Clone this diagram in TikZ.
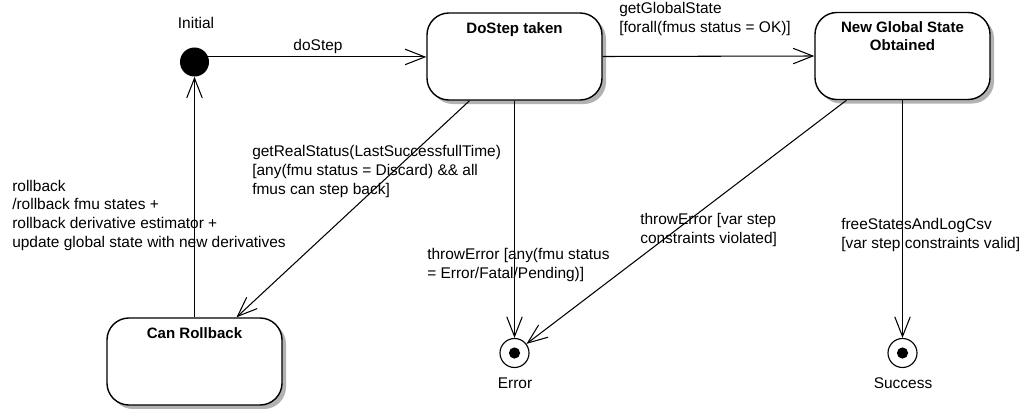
\documentclass[tikz,border=0pt]{standalone}
\usepackage{fontspec}
\setmainfont{Liberation Sans}
\usepackage{tikz}
\usetikzlibrary{arrows.meta,calc,shadows}

\tikzset{
  state/.style={draw, line width=1pt, rounded corners=0.55cm, fill=white,
    minimum width=4.375cm, minimum height=2.175cm, inner sep=0pt,
    drop shadow={shadow xshift=0.1cm, shadow yshift=-0.1cm, fill=black!30, opacity=1}},
  statetitle/.style={anchor=north, yshift=-0.25cm, inner sep=0pt, align=center,
    font=\fontsize{10.7}{12.8}\selectfont\bfseries},
  initstate/.style={circle, fill=black, minimum size=0.725cm, inner sep=0pt},
  finalstate/.style={circle, draw, line width=0.8pt, fill=white, minimum size=0.725cm, inner sep=0pt},
  trans/.style={-{Straight Barb[length=14pt,width=11pt]}, line width=0.75pt},
  txt/.style={font=\fontsize{11}{13.2}\selectfont, align=left, inner sep=0pt, anchor=base west}
}

\begin{document}
\begin{tikzpicture}[x=0.025cm, y=-0.025cm]
  \useasboundingbox (0,0) rectangle (1019,408);

  % States
  \node[initstate] (init) at (194.5,62) {};
  \node[state, label={[statetitle]north:DoStep taken}] (dostep) at (514.5,56.5) {};
  \node[state, label={[statetitle]north:New Global State\\Obtained}] (newstate) at (902.5,56) {};
  \node[state, label={[statetitle]north:Can Rollback}] (rollback) at (194.5,361.5) {};
  \node[finalstate] (errend) at (514.5,353) {};
  \node[finalstate] (success) at (902.5,353) {};
  \fill (errend) circle (0.14cm);
  \fill (success) circle (0.14cm);

  % Names of the pseudo states
  \node[txt, anchor=base] (initname) at (196,28) {Initial};
  \node[txt, anchor=base] (errname) at (515,388) {Error};
  \node[txt, anchor=base] (succname) at (903,388) {Success};

  % Transitions
  \draw[trans] (init.20) -- (init.20 -| dostep.west);
  \draw[trans] (dostep.east) -- (newstate.west);
  \draw[trans] ($(dostep.south)+(-45,0)$) -- ($(rollback.north)+(42,0)$);
  \draw[trans] (dostep.south) -- (errend.north);
  \draw[trans] ($(newstate.south)+(-56,0)$) -- (errend);
  \draw[trans] (newstate.south) -- (success.north);
  \draw[trans] (rollback.north) -- (init.south);

  % Transition labels (placed at the baseline of their last line)
  \node[txt, anchor=base] (lbldostep) at (318,50) {doStep};
  \node[txt] (lblglobal) at (619,32) {getGlobalState\\{}[forall(fmus status = OK)]};
  \node[txt] (lblrealstat) at (252,194) {getRealStatus(LastSuccessfullTime)\\{}[any(fmu status = Discard) \&\& all\\fmus can step back]};
  \node[txt] (lblerror) at (427,278) {throwError [any(fmu status\\= Error/Fatal/Pending)]};
  \node[txt] (lblviolated) at (640,243) {throwError [var step\\constraints violated]};
  \node[txt] (lblvalid) at (841,248) {freeStatesAndLogCsv\\{}[var step constraints valid]};
  \node[txt] (lblrollback) at (12,247) {rollback\\/rollback fmu states +\\rollback derivative estimator +\\update global state with new derivatives};

\end{tikzpicture}
\end{document}
